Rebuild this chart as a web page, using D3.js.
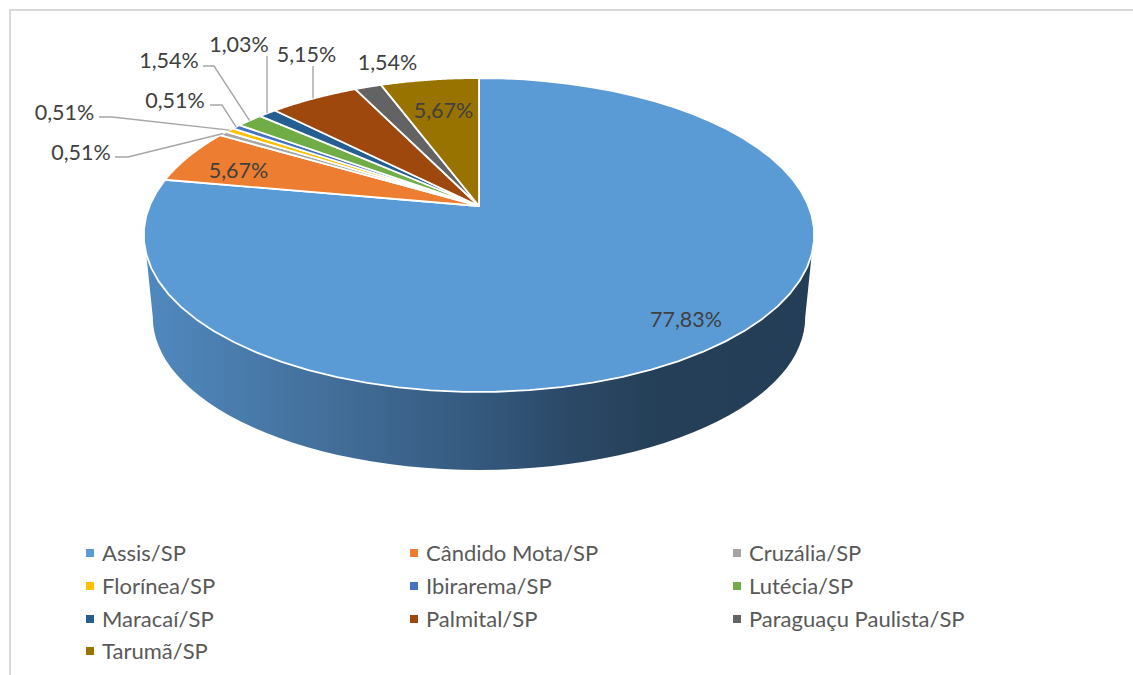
<!DOCTYPE html>
<html><head><meta charset="utf-8">
<script src="https://cdn.jsdelivr.net/npm/d3@7/dist/d3.min.js"></script>
<style>html,body{margin:0;padding:0;background:#fff}svg{display:block}text{font-family:Lato,Carlito,"Noto Sans",sans-serif}</style>
</head><body><svg id="c" width="1133" height="675"></svg>
<script>
const categories = ["Assis/SP","Cândido Mota/SP","Cruzália/SP","Florínea/SP","Ibirarema/SP","Lutécia/SP","Maracaí/SP","Palmital/SP","Paraguaçu Paulista/SP","Tarumã/SP"];
const values = [77.83,5.67,0.51,0.51,0.51,1.54,1.03,5.15,1.54,5.67];
const valueLabels = ["77,83%","5,67%","0,51%","0,51%","0,51%","1,54%","1,03%","5,15%","1,54%","5,67%"];
const colors = ["#5B9BD5","#ED7D31","#A5A5A5","#FFC000","#4472C4","#70AD47","#255E91","#9E480E","#636363","#997300"];

// Layout (not data): label centres, and leader elbows where present
const labelXY = [[686,319],[238.5,170],[81,152],[64.5,112],[175,100],[169,60],[239,44],[306.5,54],[387.5,62],[443.5,110]];
const leaderElbow = [null,null,[[115,157],[128,157]],[[99,117],[112,117]],[[210,105],[222,105]],[[203,66],[214,66]],[[267,56],[267,56]],[[313,66],[313,66]],null,null];

const svg = d3.select("#c");
// Perspective projection of the unit disc
const K = 0.1847;
const project = (a, s, apexY) => {
  const u = Math.sin(a), v = Math.cos(a), w = 1 + K*v;
  return [479 + s*329.5*u/w, apexY - s*151.6*v/w];
};
const TOP = a => project(a, 1, 206);
const LOW = a => project(a, 0.973, 289);
const line = d3.line();
const sample = (f, a0, a1) => d3.range(0, 61).map(i => f(a0 + (a1-a0)*i/60));
const rad = d => d*Math.PI/180;

// Frame
svg.append("path").attr("d", line([[10,675],[10,10],[1133,10]])).attr("fill","none").attr("stroke","#D9D9D9").attr("stroke-width",2);

// Wall
const grad = svg.append("defs").append("linearGradient").attr("id","wall").attr("gradientUnits","userSpaceOnUse")
  .attr("x1",145).attr("x2",814).attr("y1",0).attr("y2",0);
[[0,"#5089BF"],[0.27,"#436F9A"],[0.5,"#34597E"],[0.64,"#2B4866"],[0.77,"#243F57"],[1,"#233E56"]].forEach(s =>
  grad.append("stop").attr("offset",s[0]).attr("stop-color",s[1]));
const wallPts = sample(TOP, rad(107.5), rad(252.5)).concat(sample(LOW, rad(259.4), rad(100.6)));
svg.append("path").attr("d", line(wallPts)+"Z").attr("fill","url(#wall)");

// Top slices
const arcs = d3.pie().sort(null).value(d=>d)(values);
svg.append("g").selectAll("path").data(arcs).join("path")
  .attr("d", d => line([[479,206]].concat(sample(TOP, d.startAngle, d.endAngle)))+"Z")
  .attr("fill",(d,i)=>colors[i]).attr("stroke","#fff").attr("stroke-width",1.8).attr("stroke-linejoin","round");

// Leaders
arcs.forEach((d,i) => {
  if(!leaderElbow[i]) return;
  const end = TOP((d.startAngle+d.endAngle)/2);
  const e = leaderElbow[i];
  const tip = i===6||i===7 ? [e[0][0], end[1]] : end;
  svg.append("path").attr("d", line([e[0],e[1],tip])).attr("fill","none").attr("stroke","#A6A6A6").attr("stroke-width",1.4);
});

// Value labels
svg.append("g").selectAll("text").data(valueLabels).join("text")
  .attr("x",(d,i)=>labelXY[i][0]).attr("y",(d,i)=>labelXY[i][1]).attr("dy","0.36em")
  .attr("text-anchor","middle").attr("font-size",21.5).attr("fill","#404040").text(d=>d);

// Legend
const colX = d3.scaleOrdinal().domain([0,1,2]).range([86,410,733]);
const rowY = d3.scaleOrdinal().domain([0,1,2,3]).range([553,586,619,651]);
const leg = svg.append("g").selectAll("g").data(categories).join("g")
  .attr("transform",(d,i)=>`translate(${colX(i%3)},${rowY(Math.floor(i/3))})`);
leg.append("rect").attr("x",0).attr("y",-4).attr("width",8).attr("height",8).attr("fill",(d,i)=>colors[i]);
leg.append("text").attr("x",16).attr("dy","0.36em").attr("font-size",22).attr("fill","#595959").text(d=>d);
</script></body></html>
